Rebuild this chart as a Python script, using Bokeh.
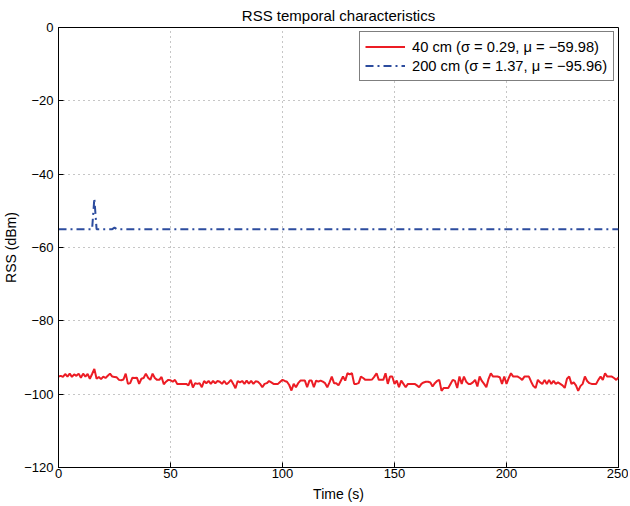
from bokeh.plotting import figure
from bokeh.models import FixedTicker, Legend, LegendItem, Range1d
from bokeh.embed import file_html
from bokeh.resources import INLINE

# ---- data ----
title_text = "RSS temporal characteristics"
x_label = "Time (s)"
y_label = "RSS (dBm)"

x_ticks = [0, 50, 100, 150, 200, 250]
y_ticks = [-120, -100, -80, -60, -40, -20, 0]
y_tick_labels = ["\u2212120", "\u2212100", "\u221280", "\u221260", "\u221240", "\u221220", "0"]

series_labels = ["40 cm (\u03c3 = 0.29, \u03bc = \u221259.98)",
                 "200 cm (\u03c3 = 1.37, \u03bc = \u221295.96)"]

red_time = list(range(0, 251))
red_rss = [
    -95.2, -95.0, -95.3, -94.5, -95.2, -94.4, -95.3, -94.6, -95.0, -94.4,
    -95.5, -94.4, -95.2, -94.5, -95.8, -94.5, -93.1, -95.8, -95.3, -95.9,
    -95.2, -95.6, -95.0, -94.4, -95.2, -95.3, -95.4, -96.1, -96.2, -96.0,
    -94.4, -97.2, -97.0, -95.5, -95.6, -95.5, -97.2, -95.8, -95.6, -94.4,
    -95.5, -96.1, -94.4, -95.6, -96.1, -96.1, -95.3, -97.3, -96.6, -96.1,
    -96.2, -96.6, -96.1, -97.2, -97.2, -97.2, -97.2, -97.2, -97.6, -96.1,
    -98.2, -97.0, -97.2, -97.0, -98.1, -96.4, -97.0, -96.4, -97.2, -96.4,
    -97.0, -96.4, -96.6, -97.2, -96.4, -97.3, -96.8, -96.1, -97.2, -98.4,
    -96.4, -96.8, -96.4, -97.2, -96.3, -97.1, -96.4, -97.2, -96.5, -96.6,
    -97.2, -98.1, -97.2, -97.0, -96.4, -96.8, -97.2, -97.2, -97.2, -96.6,
    -96.1, -96.4, -96.6, -97.5, -99.0, -97.2, -98.1, -97.0, -96.3, -96.3,
    -96.3, -98.1, -96.3, -96.3, -98.1, -96.3, -96.6, -96.3, -96.6, -97.0,
    -98.1, -96.8, -95.2, -97.0, -97.0, -97.6, -96.4, -95.2, -96.3, -94.3,
    -94.6, -94.3, -97.2, -97.2, -97.0, -95.2, -95.6, -96.1, -96.1, -96.1,
    -96.0, -95.2, -94.3, -96.1, -96.1, -96.1, -94.3, -97.2, -95.2, -95.2,
    -97.2, -96.3, -98.1, -96.3, -97.2, -98.1, -97.2, -97.2, -97.2, -97.2,
    -97.6, -98.1, -97.2, -96.8, -96.6, -96.6, -96.8, -97.9, -97.0, -96.4,
    -96.1, -99.1, -98.3, -98.3, -98.3, -97.2, -96.1, -96.4, -98.3, -95.2,
    -97.2, -95.2, -96.6, -97.2, -97.2, -96.8, -96.1, -97.9, -95.2, -96.4,
    -97.2, -98.1, -95.8, -94.3, -95.2, -95.2, -95.2, -95.4, -97.2, -95.2,
    -97.2, -95.6, -94.3, -95.2, -95.2, -95.2, -95.6, -96.1, -95.2, -95.2,
    -95.2, -96.6, -97.8, -98.3, -96.1, -96.8, -97.2, -96.1, -97.2, -96.1,
    -97.2, -96.4, -97.2, -96.8, -97.2, -97.6, -98.3, -95.8, -95.2, -97.2,
    -96.8, -97.6, -99.1, -97.8, -97.2, -95.2, -96.4, -97.0, -97.2, -97.2,
    -97.2, -96.1, -95.2, -96.1, -94.3, -95.2, -95.2, -95.2, -95.6, -96.1,
    -95.4,
]

blue_time = [0, 15, 16, 17, 24, 25, 26, 250]
blue_rss = [-55.0, -55.0, -46.6, -55.0, -55.0, -54.6, -55.0, -55.0]

# ---- styles ----
RED = "#ec1c24"
BLUE = "#2c4c9e"
FONT = "Liberation Sans"

p = figure(frame_width=560, frame_height=440,
           output_backend="svg", toolbar_location=None,
           x_range=Range1d(0, 250), y_range=Range1d(-120, 0),
           min_border_left=52, min_border_right=10, min_border_top=0,
           min_border_bottom=0, background_fill_color="white",
           border_fill_color="white")

p.title.text = title_text
p.title.text_font = FONT
p.title.text_font_size = "15px"
p.title.text_font_style = "normal"
p.title.align = "center"
p.title.text_color = "black"
p.title.standoff = 8
p.title.text_line_height = 0.6

p.outline_line_color = "black"
p.outline_line_width = 1

r1 = p.line(red_time, red_rss, line_color=RED, line_width=2)
r2 = p.line(blue_time, blue_rss, line_color=BLUE, line_width=2,
            line_dash="8 4 2 4")

xa = p.xaxis[0]
ya = p.yaxis[0]
xa.ticker = FixedTicker(ticks=x_ticks)
ya.ticker = FixedTicker(ticks=y_ticks)
ya.major_label_overrides = {t: s for t, s in zip(y_ticks, y_tick_labels)}
for ax in (xa, ya):
    ax.axis_line_color = "black"
    ax.major_tick_in = 5
    ax.major_tick_out = 0
    ax.major_tick_line_color = "black"
    ax.minor_tick_line_color = None
    ax.major_label_text_font = FONT
    ax.major_label_text_color = "black"
    ax.major_label_text_font_size = "13px"
    ax.major_label_text_line_height = 1.0
    ax.axis_label_text_font = FONT
    ax.axis_label_text_font_size = "14px"
    ax.axis_label_text_font_style = "normal"
    ax.axis_label_text_color = "black"
    ax.axis_label_text_line_height = 1.0
xa.major_label_standoff = 1
ya.major_label_standoff = 5
xa.axis_label = x_label
ya.axis_label = y_label
xa.axis_label_standoff = 5
ya.axis_label_standoff = 2

p.xgrid[0].ticker = FixedTicker(ticks=x_ticks)
p.ygrid[0].ticker = FixedTicker(ticks=y_ticks)
for g in (p.xgrid[0], p.ygrid[0]):
    g.grid_line_color = "#8c8c8c"
    g.grid_line_dash = "1 4"
    g.grid_line_width = 1

legend = Legend(items=[LegendItem(label=series_labels[0], renderers=[r1]),
                       LegendItem(label=series_labels[1], renderers=[r2])],
                location="top_right", margin=4, padding=5, spacing=0,
                label_height=19, glyph_height=19, glyph_width=40,
                label_standoff=7, label_width=196,
                label_text_font=FONT, label_text_font_size="14.7px",
                label_text_color="black",
                border_line_color="black", border_line_width=1.5,
                background_fill_color="white", background_fill_alpha=1.0)
p.add_layout(legend)

open("out.html", "w").write(file_html(p, INLINE))
